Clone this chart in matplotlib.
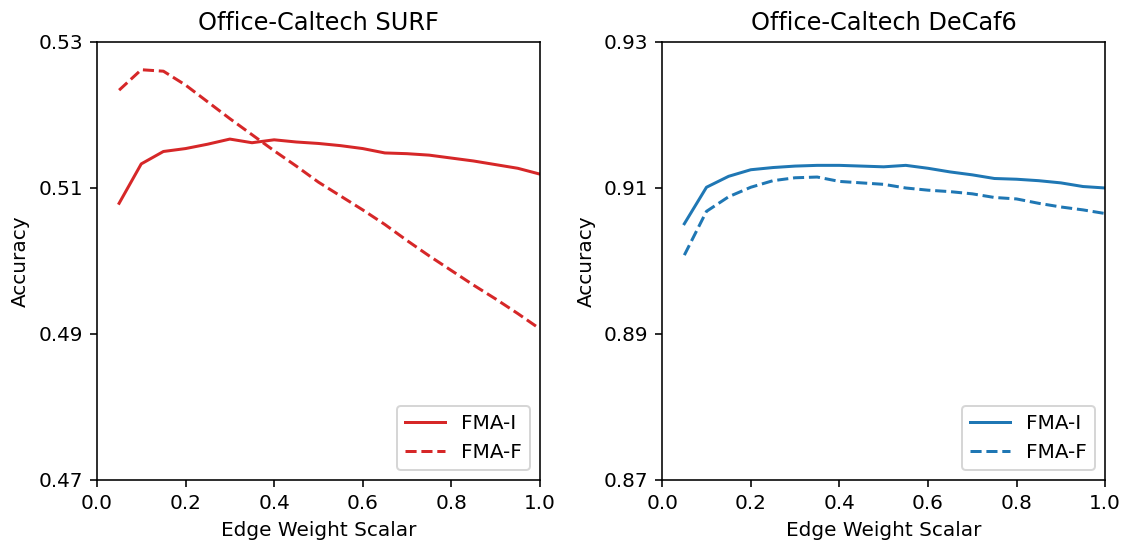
import matplotlib
matplotlib.use("Agg")
import matplotlib.pyplot as plt
import numpy as np

x = [0.05, 0.10, 0.15, 0.20, 0.25, 0.30, 0.35, 0.40, 0.45, 0.50,
     0.55, 0.60, 0.65, 0.70, 0.75, 0.80, 0.85, 0.90, 0.95, 1.00]

surf_fma_i = [0.5079, 0.5133, 0.5150, 0.5154, 0.5160, 0.5167, 0.5162, 0.5166, 0.5163, 0.5161,
              0.5158, 0.5154, 0.5148, 0.5147, 0.5145, 0.5141, 0.5137, 0.5132, 0.5127, 0.5119]
surf_fma_f = [0.5234, 0.5262, 0.5260, 0.5241, 0.5218, 0.5195, 0.5173, 0.5151, 0.5130, 0.5108,
              0.5089, 0.5070, 0.5050, 0.5028, 0.5007, 0.4987, 0.4967, 0.4948, 0.4928, 0.4907]

decaf_fma_i = [0.9051, 0.9101, 0.9116, 0.9125, 0.9128, 0.9130, 0.9131, 0.9131, 0.9130, 0.9129,
               0.9131, 0.9127, 0.9122, 0.9118, 0.9113, 0.9112, 0.9110, 0.9107, 0.9102, 0.9100]
decaf_fma_f = [0.9008, 0.9068, 0.9088, 0.9101, 0.9110, 0.9114, 0.9115, 0.9109, 0.9107, 0.9105,
               0.9100, 0.9097, 0.9095, 0.9092, 0.9087, 0.9085, 0.9079, 0.9074, 0.9070, 0.9065]

surf_yticks = [0.47, 0.49, 0.51, 0.53]
decaf_yticks = [0.87, 0.89, 0.91, 0.93]
xticks = [0.0, 0.2, 0.4, 0.6, 0.8, 1.0]

DPI = 144
fig = plt.figure(figsize=(1130 / DPI, 546 / DPI), dpi=DPI)
ax1 = fig.add_axes([0.0858, 0.1209, 0.392, 0.8022])
ax2 = fig.add_axes([0.586, 0.1209, 0.392, 0.8022])

panels = [
    (ax1, "Office-Caltech SURF", surf_fma_i, surf_fma_f, surf_yticks, "#d62728"),
    (ax2, "Office-Caltech DeCaf6", decaf_fma_i, decaf_fma_f, decaf_yticks, "#1f77b4"),
]
for ax, title, yi, yf, yt, c in panels:
    ax.plot(x, yi, color=c, linestyle="-", label="FMA-I")
    ax.plot(x, yf, color=c, linestyle="--", label="FMA-F")
    ax.set_xlim(0.0, 1.0)
    ax.set_ylim(yt[0], yt[-1])
    ax.set_yticks(yt)
    ax.set_yticklabels([f"{v:.2f}" for v in yt])
    ax.set_xticks(xticks)
    ax.set_xticklabels([f"{v:.1f}" for v in xticks])
    ax.set_title(title)
    ax.set_xlabel("Edge Weight Scalar")
    ax.set_ylabel("Accuracy")
    ax.legend(loc="lower right")

fig.savefig("out.png", dpi=DPI)
